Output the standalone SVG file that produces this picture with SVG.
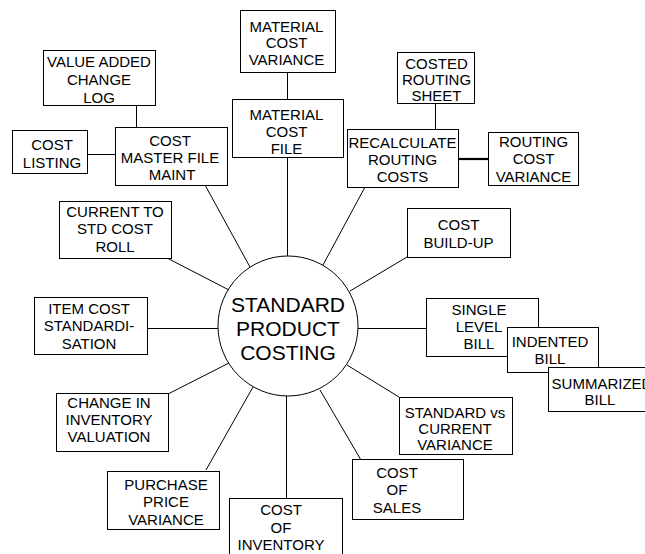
<svg xmlns="http://www.w3.org/2000/svg" width="645" height="554" viewBox="0 0 645 554">
<style>
  .box { fill: #ffffff; stroke: #000000; stroke-width: 1; }
  .hub { fill: #ffffff; stroke: #000000; stroke-width: 1; }
  .lbl { font-family: "Liberation Sans", Arial, sans-serif; font-size: 15px; fill: #000000; text-anchor: middle; }
  .big { font-family: "Liberation Sans", Arial, sans-serif; font-size: 21px; fill: #000000; text-anchor: middle; }
  .con { stroke: #000000; stroke-width: 1; fill: none; }
  .thick { stroke: #000000; stroke-width: 2.2; fill: none; }
</style>
<rect x="0" y="0" width="645" height="554" fill="#ffffff"/>

<g id="connectors">
  <line class="con" x1="205" y1="185" x2="250" y2="267"/>
  <line class="con" x1="287.5" y1="157" x2="287.5" y2="256"/>
  <line class="con" x1="365" y1="187" x2="323" y2="265"/>
  <line class="con" x1="407" y1="257" x2="350" y2="291"/>
  <line class="con" x1="358" y1="328.5" x2="426" y2="328.5"/>
  <line class="con" x1="399" y1="397" x2="347" y2="365"/>
  <line class="con" x1="361" y1="460" x2="320" y2="390"/>
  <line class="con" x1="286.5" y1="396" x2="286.5" y2="498"/>
  <line class="con" x1="206" y1="470" x2="253" y2="387"/>
  <line class="con" x1="168" y1="394" x2="229" y2="363"/>
  <line class="con" x1="147" y1="328.5" x2="218" y2="328.5"/>
  <line class="con" x1="167" y1="258" x2="229" y2="290"/>
  <line class="con" x1="136.5" y1="105" x2="136.5" y2="127"/>
  <line class="con" x1="87" y1="154.5" x2="115" y2="154.5"/>
  <line class="con" x1="287.5" y1="72" x2="287.5" y2="99"/>
  <line class="con" x1="435.5" y1="103" x2="435.5" y2="129"/>
  <line class="thick" x1="458" y1="159" x2="488" y2="159"/>
</g>

<g id="hub">
  <circle class="hub" cx="288" cy="326" r="70"/>
  <text class="big" x="288" y="312">STANDARD</text>
  <text class="big" x="288" y="336">PRODUCT</text>
  <text class="big" x="288" y="360">COSTING</text>
</g>

<g id="value-added">
  <rect class="box" x="43.5" y="50.5" width="112" height="55"/>
  <text class="lbl" x="99" y="66.5">VALUE ADDED</text>
  <text class="lbl" x="99" y="84.5">CHANGE</text>
  <text class="lbl" x="99" y="102.5">LOG</text>
</g>

<g id="cost-listing">
  <rect class="box" x="12.5" y="130.5" width="75" height="43"/>
  <text class="lbl" x="52" y="150">COST</text>
  <text class="lbl" x="52" y="167.5">LISTING</text>
</g>

<g id="cost-master">
  <rect class="box" x="115.5" y="127.5" width="112" height="58"/>
  <text class="lbl" x="170" y="146">COST</text>
  <text class="lbl" x="170" y="163">MASTER FILE</text>
  <text class="lbl" x="172" y="180">MAINT</text>
</g>

<g id="material-cost-variance">
  <rect class="box" x="240.5" y="10.5" width="95" height="62"/>
  <text class="lbl" x="286.5" y="31.5">MATERIAL</text>
  <text class="lbl" x="286.5" y="48">COST</text>
  <text class="lbl" x="286.5" y="64.5">VARIANCE</text>
</g>

<g id="material-cost-file">
  <rect class="box" x="232.5" y="99.5" width="111" height="58"/>
  <text class="lbl" x="286.5" y="120">MATERIAL</text>
  <text class="lbl" x="286.5" y="136.5">COST</text>
  <text class="lbl" x="286.5" y="153.5">FILE</text>
</g>

<g id="costed-routing">
  <rect class="box" x="397.5" y="52.5" width="77" height="51"/>
  <text class="lbl" x="436.5" y="68.5">COSTED</text>
  <text class="lbl" x="436.5" y="85">ROUTING</text>
  <text class="lbl" x="436.5" y="101">SHEET</text>
</g>

<g id="recalculate">
  <rect class="box" x="347.5" y="129.5" width="111" height="58"/>
  <text class="lbl" x="402.5" y="147.5">RECALCULATE</text>
  <text class="lbl" x="402.5" y="165">ROUTING</text>
  <text class="lbl" x="402.5" y="181.5">COSTS</text>
</g>

<g id="routing-variance">
  <rect class="box" x="488.5" y="132.5" width="90" height="53"/>
  <text class="lbl" x="533.5" y="147">ROUTING</text>
  <text class="lbl" x="533.5" y="164">COST</text>
  <text class="lbl" x="533.5" y="181.5">VARIANCE</text>
</g>

<g id="current-to-std">
  <rect class="box" x="59.5" y="201.5" width="112" height="57"/>
  <text class="lbl" x="115" y="217">CURRENT TO</text>
  <text class="lbl" x="115" y="234">STD COST</text>
  <text class="lbl" x="115" y="251.5">ROLL</text>
</g>

<g id="item-cost">
  <rect class="box" x="34.5" y="297.5" width="113" height="57"/>
  <text class="lbl" x="89" y="313.5">ITEM COST</text>
  <text class="lbl" x="89" y="331">STANDARDI-</text>
  <text class="lbl" x="89" y="348.5">SATION</text>
</g>

<g id="cost-build-up">
  <rect class="box" x="407.5" y="208.5" width="103" height="49"/>
  <text class="lbl" x="458.5" y="230">COST</text>
  <text class="lbl" x="458.5" y="247.5">BUILD-UP</text>
</g>

<g id="single-level">
  <rect class="box" x="426.5" y="298.5" width="112" height="58"/>
  <text class="lbl" x="479" y="315">SINGLE</text>
  <text class="lbl" x="479" y="332">LEVEL</text>
  <text class="lbl" x="479" y="349">BILL</text>
</g>

<g id="indented">
  <rect class="box" x="507.5" y="327.5" width="91" height="45"/>
  <text class="lbl" x="550" y="347">INDENTED</text>
  <text class="lbl" x="550" y="364">BILL</text>
</g>

<g id="summarized">
  <rect class="box" x="548.5" y="367.5" width="104" height="44"/>
  <text class="lbl" x="602" y="388.5">SUMMARIZED</text>
  <text class="lbl" x="600" y="405">BILL</text>
</g>

<g id="standard-vs-current">
  <rect class="box" x="399.5" y="397.5" width="113" height="57"/>
  <text class="lbl" x="455" y="417.5">STANDARD vs</text>
  <text class="lbl" x="455" y="434">CURRENT</text>
  <text class="lbl" x="455" y="450">VARIANCE</text>
</g>

<g id="cost-of-sales">
  <rect class="box" x="352.5" y="459.5" width="111" height="60"/>
  <text class="lbl" x="397" y="477.5">COST</text>
  <text class="lbl" x="397" y="495">OF</text>
  <text class="lbl" x="397" y="512.5">SALES</text>
</g>

<g id="cost-of-inventory">
  <rect class="box" x="229.5" y="498.5" width="113" height="62"/>
  <text class="lbl" x="281" y="514.5">COST</text>
  <text class="lbl" x="281" y="532.5">OF</text>
  <text class="lbl" x="281" y="550">INVENTORY</text>
</g>

<g id="purchase-price">
  <rect class="box" x="107.5" y="471.5" width="112" height="58"/>
  <text class="lbl" x="166" y="489.5">PURCHASE</text>
  <text class="lbl" x="166" y="507">PRICE</text>
  <text class="lbl" x="166" y="525">VARIANCE</text>
</g>

<g id="change-in-inventory">
  <rect class="box" x="56.5" y="393.5" width="112" height="58"/>
  <text class="lbl" x="109" y="408">CHANGE IN</text>
  <text class="lbl" x="109" y="425">INVENTORY</text>
  <text class="lbl" x="109" y="442">VALUATION</text>
</g>
</svg>
